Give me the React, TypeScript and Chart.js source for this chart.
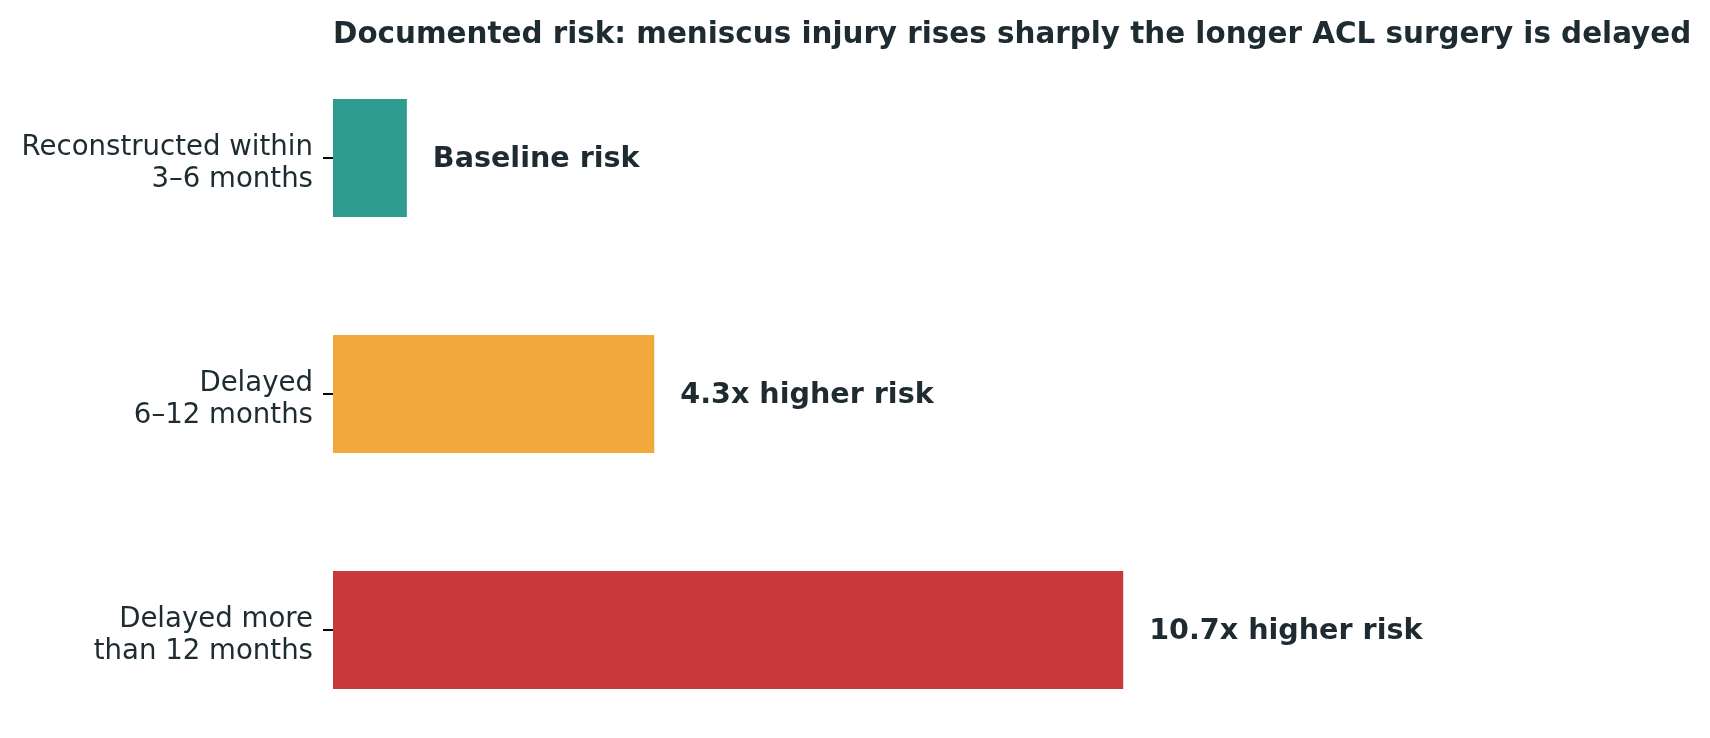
import React, { useEffect, useRef } from "react";
import { Chart, registerables } from "chart.js";

Chart.register(...registerables);

const categories: string[][] = [
  ["Reconstructed within", "3–6 months"],
  ["Delayed", "6–12 months"],
  ["Delayed more", "than 12 months"],
];
const riskValues: number[] = [1, 4.35, 10.7];
const barLabels: string[] = ["Baseline risk", "4.3x higher risk", "10.7x higher risk"];
const barColors: string[] = ["#2E9C8E", "#F1A93B", "#C8393D"];
const titleText = "Documented risk: meniscus injury rises sharply the longer ACL surgery is delayed";
const TEXT = "#1E2B30";
const FONT = "'DejaVu Sans', sans-serif";

export default function App() {
  const ref = useRef<HTMLCanvasElement | null>(null);

  useEffect(() => {
    document.body.style.margin = "0";
    const canvas = ref.current;
    if (!canvas) return;

    const labelPlugin = {
      id: "labelsAndTitle",
      afterDraw(chart: any) {
        const ctx = chart.ctx;
        const area = chart.chartArea;
        ctx.save();
        ctx.fillStyle = TEXT;
        ctx.font = `bold 29.4px ${FONT}`;
        ctx.textAlign = "left";
        ctx.textBaseline = "alphabetic";
        ctx.fillText(titleText, area.left, 42.5);

        const meta = chart.getDatasetMeta(0);
        ctx.font = `bold 28.6px ${FONT}`;
        ctx.textBaseline = "middle";
        meta.data.forEach((bar: any, i: number) => {
          ctx.fillText(barLabels[i], bar.x + 26, bar.y + 1.5);
        });
        ctx.restore();
      },
    };

    const chart = new Chart(canvas, {
      type: "bar",
      data: {
        datasets: [
          {
            data: riskValues.map((v, i) => ({ x: v, y: i })),
            backgroundColor: barColors,
            borderWidth: 0,
            categoryPercentage: 1,
            barPercentage: 0.5,
          },
        ],
      },
      options: {
        indexAxis: "y",
        responsive: false,
        animation: false,
        layout: { padding: { top: 69.5, bottom: 19.5, right: 47.7, left: 0 } },
        plugins: {
          legend: { display: false },
          tooltip: { enabled: false },
          title: { display: false },
        },
        scales: {
          x: {
            type: "linear",
            display: false,
            min: 0,
            max: 18,
          },
          y: {
            type: "linear",
            reverse: true,
            offset: false,
            min: -0.375,
            max: 2.375,
            afterBuildTicks(scale: any) {
              scale.ticks = categories.map((_, i) => ({ value: i }));
            },
            afterFit(scale: any) {
              scale.width = 333;
              scale.paddingTop = 0;
              scale.paddingBottom = 0;
            },
            ticks: {
              autoSkip: false,
              padding: 10,
              color: TEXT,
              labelOffset: 6,
              font: { family: FONT, size: 27.6, lineHeight: 1.15 },
              callback: (value: any) => categories[Math.round(Number(value))] ?? "",
            },
            grid: {
              display: true,
              offset: false,
              drawOnChartArea: false,
              drawTicks: true,
              tickLength: 10,
              color: "#000000",
              lineWidth: 2,
            },
            border: { display: false },
          },
        },
      },
      plugins: [labelPlugin],
    } as any);

    return () => chart.destroy();
  }, []);

  return (
    <div style={{ position: "fixed", left: 0, top: 0, width: 1710, height: 738, background: "#ffffff" }}>
      <canvas ref={ref} width={1710} height={738} style={{ display: "block", width: 1710, height: 738 }} />
    </div>
  );
}
